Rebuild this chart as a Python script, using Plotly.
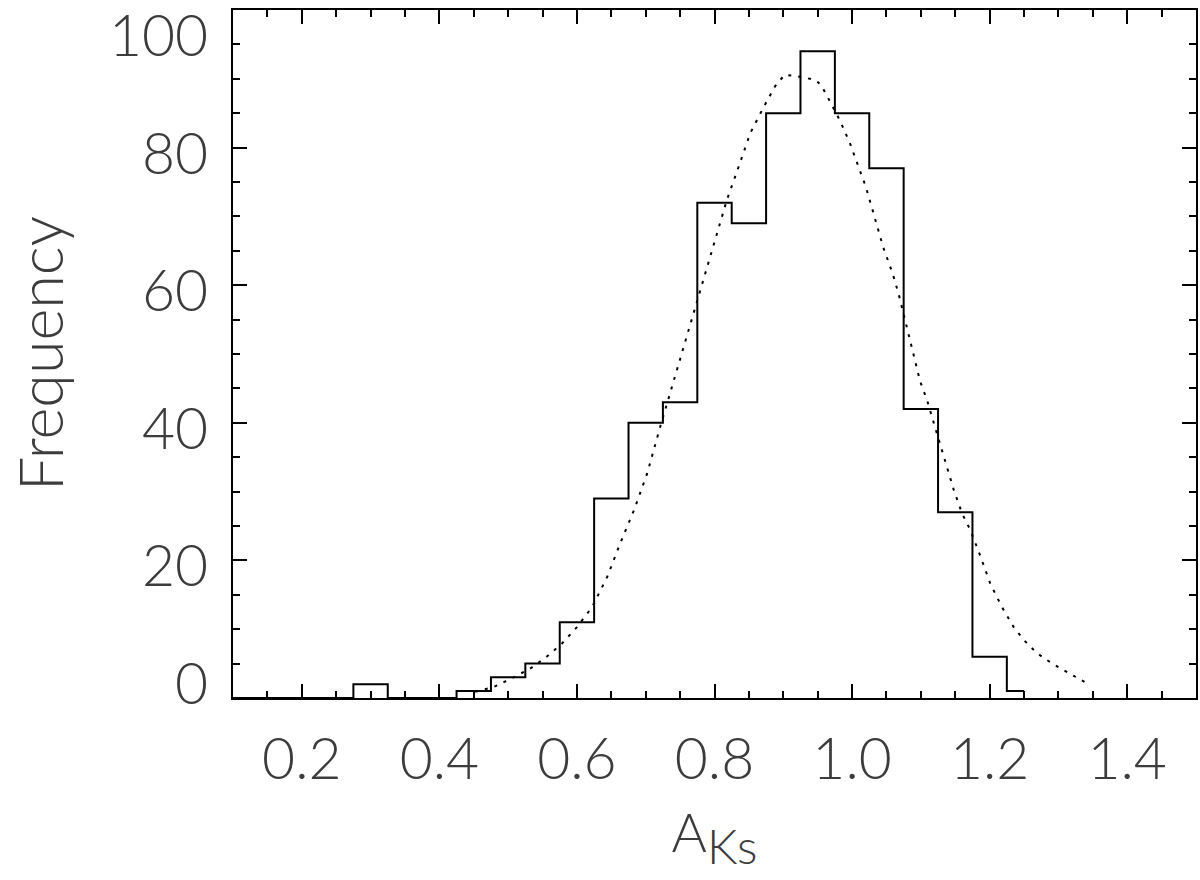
import plotly.graph_objects as go

# Histogram (bin centres, counts) - drawn IDL psym=10 style
bin_centers = [0.10, 0.15, 0.20, 0.25, 0.30, 0.35, 0.40, 0.45, 0.50, 0.55, 0.60, 0.65,
               0.70, 0.75, 0.80, 0.85, 0.90, 0.95, 1.00, 1.05, 1.10, 1.15, 1.20, 1.25]
counts = [0, 0, 0, 0, 2, 0, 0, 1, 3, 5, 11, 29,
          40, 43, 72, 69, 85, 94, 85, 77, 42, 27, 6, 1]

# Dotted fitted curve
fit_x = [0.452, 0.479, 0.508, 0.534, 0.556, 0.578, 0.600, 0.622, 0.644, 0.663, 0.683, 0.702,
         0.721, 0.741, 0.776, 0.796, 0.818, 0.835, 0.852, 0.872, 0.888, 0.902, 0.930, 0.947,
         0.955, 0.969, 0.983, 0.997, 1.008, 1.020, 1.031, 1.045, 1.059, 1.068, 1.099, 1.109,
         1.119, 1.129, 1.138, 1.148, 1.160, 1.172, 1.187, 1.201, 1.218, 1.235, 1.250, 1.269,
         1.291, 1.313, 1.342]
fit_y = [0.9, 1.6, 3.0, 4.4, 6.0, 7.9, 10.3, 13.2, 17.6, 22.5, 27.3, 32.6,
         39.4, 46.2, 58.3, 65.1, 72.4, 77.2, 82.1, 86.0, 88.9, 90.6, 90.2, 89.8,
         89.1, 86.5, 83.8, 80.6, 77.7, 74.3, 70.5, 65.6, 61.7, 58.6, 46.0, 43.3,
         39.9, 36.5, 33.6, 30.2, 26.8, 24.4, 20.5, 16.6, 13.2, 10.3, 8.4, 6.5,
         5.0, 3.8, 2.1]

x_ticks = [0.2, 0.4, 0.6, 0.8, 1.0, 1.2, 1.4]
x_ticklabels = ["0.2", "0.4", "0.6", "0.8", "1.0", "1.2", "1.4"]
y_ticks = [0, 20, 40, 60, 80, 100]
y_ticklabels = ["0", "20", "40", "60", "80", "100"]

FONT = "Lato, Inter, sans-serif"
TXT = "#3c3c3c"
W = 300

fig = go.Figure()
fig.add_trace(go.Scatter(x=bin_centers, y=counts, mode="lines",
                         line=dict(shape="hvh", color="black", width=2),
                         showlegend=False, hoverinfo="skip"))
fig.add_trace(go.Scatter(x=fit_x, y=fit_y, mode="lines",
                         line=dict(color="black", width=2, dash="3px,7px"),
                         showlegend=False, hoverinfo="skip"))

axis_common = dict(showgrid=False, zeroline=False, showline=True, linecolor="black",
                   linewidth=2, mirror="ticks", ticks="inside", tickcolor="black",
                   tickwidth=2)

fig.update_xaxes(range=[0.1, 1.5], tickvals=x_ticks, ticktext=x_ticklabels,
                 ticklen=14,
                 minor=dict(dtick=0.05, tick0=0, ticks="inside", ticklen=7,
                            tickcolor="black", tickwidth=2, showgrid=False),
                 tickfont=dict(family=FONT, size=57, color=TXT, weight=W),
                 ticklabelstandoff=11,
                 title=dict(text="A<sub><span style='font-size:48px'>Ks</span></sub>",
                            standoff=24,
                            font=dict(family=FONT, size=54, color=TXT, weight=W)),
                 **axis_common)
fig.update_yaxes(range=[0, 100], tickvals=y_ticks, showticklabels=False,
                 ticklen=14,
                 minor=dict(dtick=5, tick0=0, ticks="inside", ticklen=7,
                            tickcolor="black", tickwidth=2, showgrid=False),
                 **axis_common)

# y tick labels as annotations (IDL nudges the end labels inside the frame)
for v, t in zip(y_ticks, y_ticklabels):
    if v == y_ticks[0]:
        shift = 16
    elif v == y_ticks[-1]:
        shift = -24
    else:
        shift = -4
    fig.add_annotation(x=0, xref="paper", y=v, yref="y", text=t, showarrow=False,
                       xanchor="right", yanchor="middle", xshift=-24, yshift=shift,
                       borderpad=0,
                       font=dict(family=FONT, size=57, color=TXT, weight=W))

fig.add_annotation(x=0, xref="paper", y=0.5, yref="paper", text="Frequency",
                   showarrow=False, textangle=-90, xanchor="center", yanchor="middle",
                   xshift=-194, borderpad=0,
                   font=dict(family=FONT, size=61, color=TXT, weight=W))

fig.update_layout(width=1200, height=880, plot_bgcolor="white", paper_bgcolor="white",
                  margin=dict(l=233, r=4, t=10, b=182, autoexpand=False))

fig.write_html("out.html", config={"displayModeBar": False},
               post_script="document.body.style.margin='0';document.body.style.overflow='hidden';")
